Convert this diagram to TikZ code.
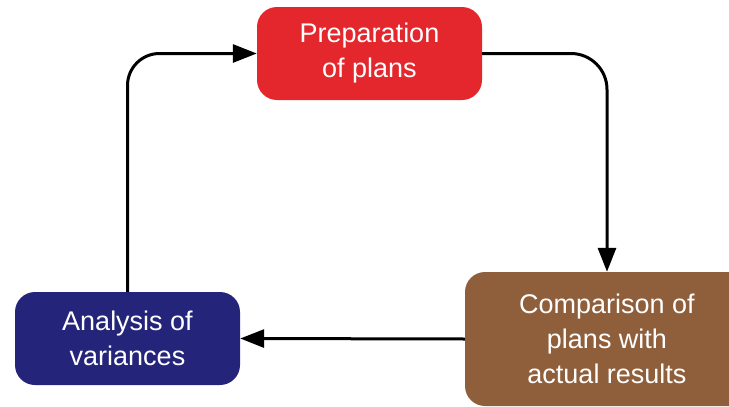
\documentclass[tikz,border=0pt]{standalone}
\usepackage{fontspec}
\setmainfont{Liberation Sans}
\usepackage{xcolor}
\usepackage{tikz}
\usetikzlibrary{arrows.meta}

\definecolor{planred}{RGB}{228,38,45}
\definecolor{varblue}{RGB}{36,36,122}
\definecolor{resbrown}{RGB}{143,95,60}

\tikzset{
	stagebox/.style={rectangle,rounded corners=20pt,align=center,text=white,
		font=\fontsize{27}{35}\selectfont,inner sep=0pt},
	flow/.style={line width=3pt,-{Triangle[length=24pt,width=18pt]}},
}

\begin{document}
\begin{tikzpicture}[x=1pt,y=-1pt]
		\useasboundingbox (0,0) rectangle (729,407);

		\node[stagebox,fill=planred,minimum width=225pt,minimum height=93pt] (plans) at (369.5,53.5) {Preparation\\of plans};
		\node[stagebox,fill=varblue,minimum width=225pt,minimum height=93pt] (variances) at (127.5,338.5) {Analysis of\\variances};
		\node[stagebox,fill=resbrown,minimum width=284pt,minimum height=134pt] (results) at (607,339) {Comparison of\\plans with\\actual results};

		\draw[flow,rounded corners=32pt] (variances.north) |- (plans.west);
		\draw[flow,rounded corners=36pt] (plans.east) -| (results.north);
		\draw[flow] (results.west) -- (variances.east);
	\end{tikzpicture}
\end{document}
